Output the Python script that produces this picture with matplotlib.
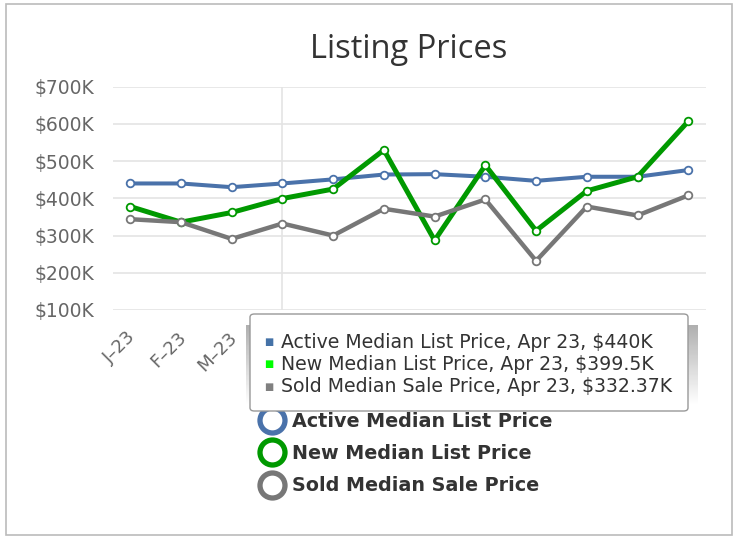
import numpy as np
import matplotlib
matplotlib.use("Agg")
import matplotlib.pyplot as plt
import matplotlib.transforms as mtransforms
from matplotlib.patches import FancyBboxPatch, Rectangle
from matplotlib.lines import Line2D

plt.rcParams['font.family'] = 'DejaVu Sans'

months = ['J–23', 'F–23', 'M–23', 'A–23', 'M–23', 'J–23',
          'J–23', 'A–23', 'S–23', 'O–23', 'N–23', 'D–23']
active = [440, 440, 430, 440, 451, 464, 465, 458, 447, 458, 458, 476]
new = [378, 336, 362, 399.5, 425, 530, 287, 489, 313, 420, 458, 607]
sold = [344, 336, 291, 332.37, 300, 372, 351, 397, 232, 378, 354, 408]
names = ['Active Median List Price', 'New Median List Price', 'Sold Median Sale Price']
colors = ['#4a72aa', '#009900', '#777777']
tip_colors = ['#4572a7', '#00ff00', '#808080']
hover = 3  # Apr 23

W, H = 740, 536
fig = plt.figure(figsize=(W / 100, H / 100), dpi=100)

def fx(px):
    return px / W

def fy(py):
    return 1 - py / H

# outer frame
fig.add_artist(Rectangle((fx(6), fy(535)), fx(726), 531 / H, transform=fig.transFigure,
                         fill=False, ec='#bbbbbb', lw=1.2))

ax = fig.add_axes([fx(113), fy(310), fx(593), (310 - 86.7) / H])
x = np.arange(len(months))
series = [active, new, sold]
lws = [2.9, 3.6, 3.2]
for vals, c, lw in zip(series, colors, lws):
    ax.plot(x, vals, '-', color=c, lw=lw, marker='o', ms=5.5, mfc='white',
            mec=c, mew=1.3, zorder=3)

ax.axvline(hover, color='#e4e4e4', lw=1.2, zorder=1)
ax.set_ylim(100, 700)
ax.set_xlim(-0.34, len(months) - 1 + 0.35)
ax.set_yticks(range(100, 701, 100))
ax.set_yticklabels(['$%dK' % v for v in range(100, 701, 100)])
ax.set_xticks(x)
ax.set_xticklabels(months, rotation=45, ha='right', va='top', rotation_mode='anchor')
ax.grid(axis='y', color='#e6e6e6', lw=1.3)
ax.set_axisbelow(True)
for s in ax.spines.values():
    s.set_visible(False)
ax.tick_params(length=0, colors='#666666')
ax.tick_params(axis='y', pad=13.5, labelsize=13.5)
ax.tick_params(axis='x', pad=13, labelsize=13)
shift = mtransforms.ScaledTranslation(-4 / 100, 0, fig.dpi_scale_trans)
for lab in ax.get_xticklabels():
    lab.set_transform(lab.get_transform() + shift)

fig.text(fx(409), fy(49), 'Listing Prices', ha='center', va='center',
         fontsize=23.5, color='#333333', family='Open Sans')

# legend
handles = [Line2D([], [], ls='none', marker='o', ms=18, mfc='white', mec=c, mew=3.8)
           for c in colors]
leg = fig.legend(handles, names, loc='upper left', bbox_to_anchor=(fx(253), fy(402)),
                 frameon=False, handlelength=1.0, handletextpad=0.55, labelspacing=0.7,
                 borderpad=0, prop={'weight': 'bold', 'size': 13.8})
for t in leg.get_texts():
    t.set_color('#333333')

# tooltip shadow: grey fading downwards
sh = fig.add_axes([fx(246), fy(405), fx(452), 80 / H], zorder=9)
grad = np.linspace(0, 1, 64)[:, None]
sh.imshow(grad, cmap=matplotlib.colors.LinearSegmentedColormap.from_list(
    'sh', ['#b0b0b0', '#ffffff']), aspect='auto', extent=(0, 1, 0, 1))
sh.set_axis_off()

tip_x0, tip_x1, tip_y0, tip_y1 = 250, 688, 314, 411
fig.add_artist(FancyBboxPatch((fx(tip_x0), fy(tip_y1)), fx(tip_x1 - tip_x0),
                              (tip_y1 - tip_y0) / H,
                              boxstyle='round,pad=0,rounding_size=0.006',
                              transform=fig.transFigure, fc='white', ec='#999999',
                              lw=1.0, zorder=10))
for i, (name, vals, c) in enumerate(zip(names, series, tip_colors)):
    yy = 342 + i * 22.5
    v = vals[hover]
    fig.text(fx(269), fy(yy), '■', color=c, fontsize=7, ha='center', va='center', zorder=11)
    fig.text(fx(281), fy(yy), '%s, Apr 23, $%sK' % (name, ('%g' % v)),
             color='#333333', fontsize=13.6, ha='left', va='center', zorder=11)

fig.savefig('out.png', dpi=100)
